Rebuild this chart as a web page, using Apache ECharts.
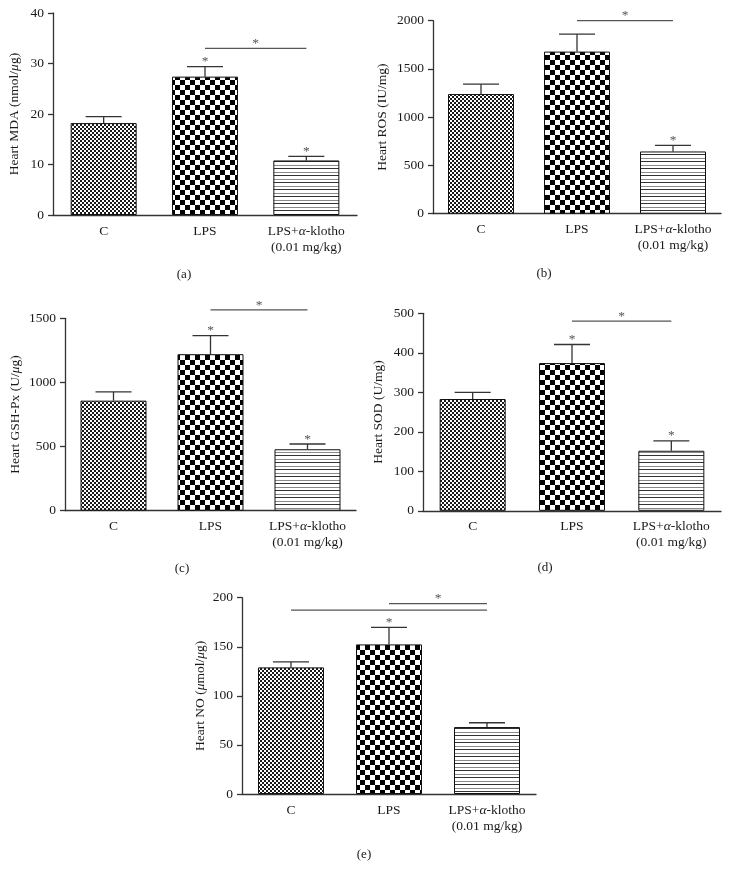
<!DOCTYPE html>
<html>
<head>
<meta charset="utf-8">
<script src="https://cdn.jsdelivr.net/npm/echarts@6/dist/echarts.min.js"></script>
<style>
html,body{margin:0;padding:0;background:#fff;}
#chart{width:731px;height:877px;}
</style>
</head>
<body>
<div id="chart"></div>
<script>
// ---- data ----
const categories = ['C', 'LPS', 'LPS+α-klotho\n(0.01 mg/kg)'];

const mdaMean  = [18.2, 27.4, 10.8];
const mdaUpper = [19.5, 29.4, 11.6];
const mdaStar  = [0, 1, 1];
const mdaSig   = [[1, 2, 33]];
const mdaTicks = [0, 10, 20, 30, 40];

const rosMean  = [1240, 1680, 645];
const rosUpper = [1342, 1860, 707];
const rosStar  = [0, 0, 1];
const rosSig   = [[1, 2, 2000]];
const rosTicks = [0, 500, 1000, 1500, 2000];

const gshMean  = [858, 1220, 479];
const gshUpper = [926, 1365, 520];
const gshStar  = [0, 1, 1];
const gshSig   = [[1, 2, 1565]];
const gshTicks = [0, 500, 1000, 1500];

const sodMean  = [283, 374, 152];
const sodUpper = [300, 421, 177];
const sodStar  = [0, 1, 1];
const sodSig   = [[1, 2, 480]];
const sodTicks = [0, 100, 200, 300, 400, 500];

const noMean  = [129, 152.4, 68.2];
const noUpper = [134.7, 169.7, 72.6];
const noStar  = [0, 1, 0];
const noSig   = [[1, 2, 194], [0, 2, 187.4]];
const noTicks = [0, 50, 100, 150, 200];

// ---- patterns ----
function checker(cell, dark) {
  const c = document.createElement('canvas');
  c.width = c.height = cell * 2;
  const g = c.getContext('2d');
  g.fillStyle = '#fff'; g.fillRect(0, 0, cell * 2, cell * 2);
  g.fillStyle = dark;
  g.fillRect(0, 0, cell, cell);
  g.fillRect(cell, cell, cell, cell);
  return c;
}
function hlines() {
  const c = document.createElement('canvas');
  c.width = 4; c.height = 7;
  const g = c.getContext('2d');
  g.fillStyle = '#fff'; g.fillRect(0, 0, 4, 7);
  g.fillStyle = '#333'; g.fillRect(0, 0, 4, 1);
  g.fillStyle = '#8a8a8a'; g.fillRect(0, 4, 4, 1);
  return c;
}
const patterns = [
  { image: checker(2, '#1a1a1a'), repeat: 'repeat' },
  { image: checker(5, '#000'), repeat: 'repeat' },
  { image: hlines(), repeat: 'repeat' }
];

const FONT = '"Liberation Serif", "DejaVu Serif", serif';
const TXT = '#1a1a1a';
const AX = '#333';

const panels = [
  { mean: mdaMean, upper: mdaUpper, star: mdaStar, sig: mdaSig, ticks: mdaTicks,
    name: 'Heart MDA (nmol/{i|μ}g)', label: '(a)',
    grid: { left: 53, top: 13, width: 304, height: 202 }, nameGap: 32, lab: [184, 275] },
  { mean: rosMean, upper: rosUpper, star: rosStar, sig: rosSig, ticks: rosTicks,
    name: 'Heart ROS (IU/mg)', label: '(b)',
    grid: { left: 433, top: 20.7, width: 288, height: 193 }, nameGap: 44, lab: [544, 274] },
  { mean: gshMean, upper: gshUpper, star: gshStar, sig: gshSig, ticks: gshTicks,
    name: 'Heart GSH-Px (U/{i|μ}g)', label: '(c)',
    grid: { left: 65, top: 318.3, width: 291, height: 192.4 }, nameGap: 43, lab: [182, 569] },
  { mean: sodMean, upper: sodUpper, star: sodStar, sig: sodSig, ticks: sodTicks,
    name: 'Heart SOD (U/mg)', label: '(d)',
    grid: { left: 423, top: 313.3, width: 298, height: 197.5 }, nameGap: 38, lab: [545, 568] },
  { mean: noMean, upper: noUpper, star: noStar, sig: noSig, ticks: noTicks,
    name: 'Heart NO ({i|μ}mol/{i|μ}g)', label: '(e)',
    grid: { left: 242, top: 597.7, width: 294, height: 196.3 }, nameGap: 35, lab: [364, 855] }
];

const grids = [], xAxes = [], yAxes = [], series = [], graphics = [];

panels.forEach((p, k) => {
  grids.push(Object.assign({ containLabel: false }, p.grid));
  xAxes.push({
    type: 'category', gridIndex: k, data: categories, boundaryGap: true,
    axisLine: { lineStyle: { color: AX, width: 1.3 } },
    axisTick: { alignWithLabel: true, length: 5, lineStyle: { color: AX, width: 1.3 } },
    axisLabel: {
      margin: 8, color: TXT, fontFamily: FONT, fontSize: 13.5, lineHeight: 16,
      verticalAlign: 'top', interval: 0,
      formatter: v => v.replace('α', '{i|α}'),
      rich: { i: { fontStyle: 'italic', fontFamily: FONT, fontSize: 13.5, color: TXT, lineHeight: 16 } }
    },
    splitLine: { show: false }
  });
  const step = p.ticks[1] - p.ticks[0];
  yAxes.push({
    type: 'value', gridIndex: k, min: p.ticks[0], max: p.ticks[p.ticks.length - 1], interval: step,
    name: p.name, nameLocation: 'middle', nameGap: p.nameGap, nameRotate: 90,
    nameTextStyle: {
      color: TXT, fontFamily: FONT, fontSize: 13.5,
      rich: { i: { fontStyle: 'italic', fontFamily: FONT, fontSize: 13.5, color: TXT } }
    },
    axisLine: { show: true, lineStyle: { color: AX, width: 1.3 } },
    axisTick: { show: true, inside: false, length: 5, lineStyle: { color: AX, width: 1.3 } },
    axisLabel: { margin: 9, color: TXT, fontFamily: FONT, fontSize: 13.5, formatter: v => String(v) },
    splitLine: { show: false }
  });
  series.push({
    type: 'bar', xAxisIndex: k, yAxisIndex: k, barWidth: 66,
    data: p.mean.map((v, i) => ({ value: v, itemStyle: { color: patterns[i] } })),
    itemStyle: { borderColor: '#111', borderWidth: 1 },
    silent: true, animation: false
  });
  series.push({
    type: 'custom', xAxisIndex: k, yAxisIndex: k, clip: false, animation: false, silent: true,
    encode: { x: 0, y: [1, 2] },
    data: p.mean.map((v, i) => [i, v, p.upper[i], p.star[i]]),
    renderItem: (params, api) => {
      const a = api.coord([api.value(0), api.value(1)]);
      const b = api.coord([api.value(0), api.value(2)]);
      const ls = { stroke: AX, lineWidth: 1.3 };
      const ch = [
        { type: 'line', shape: { x1: a[0], y1: a[1], x2: b[0], y2: b[1] }, style: ls },
        { type: 'line', shape: { x1: b[0] - 18, y1: b[1], x2: b[0] + 18, y2: b[1] }, style: ls }
      ];
      if (api.value(3)) {
        ch.push({ type: 'text', style: { text: '*', x: b[0], y: b[1] - 5, align: 'center',
          verticalAlign: 'middle', fontFamily: FONT, fontSize: 13.5, fill: '#555' } });
      }
      return { type: 'group', children: ch };
    }
  });
  series.push({
    type: 'custom', xAxisIndex: k, yAxisIndex: k, clip: false, animation: false, silent: true,
    encode: { x: [0, 1], y: 2 },
    data: p.sig,
    renderItem: (params, api) => {
      const a = api.coord([api.value(0), api.value(2)]);
      const b = api.coord([api.value(1), api.value(2)]);
      const ch = [{ type: 'line', shape: { x1: a[0], y1: a[1], x2: b[0], y2: b[1] },
        style: { stroke: '#555', lineWidth: 1.2 } }];
      if (params.dataIndex === 0) {
        ch.push({ type: 'text', style: { text: '*', x: (a[0] + b[0]) / 2, y: a[1] - 5, align: 'center',
          verticalAlign: 'middle', fontFamily: FONT, fontSize: 13.5, fill: '#555' } });
      }
      return { type: 'group', children: ch };
    }
  });
  graphics.push({ type: 'text', x: p.lab[0], y: p.lab[1], silent: true,
    style: { text: p.label, align: 'center', verticalAlign: 'middle', fontFamily: FONT, fontSize: 13, fill: TXT } });
});

const chart = echarts.init(document.getElementById('chart'), null, { renderer: 'canvas' });
chart.setOption({
  backgroundColor: '#fff',
  animation: false,
  grid: grids, xAxis: xAxes, yAxis: yAxes, series: series, graphic: graphics
});
</script>
</body>
</html>
